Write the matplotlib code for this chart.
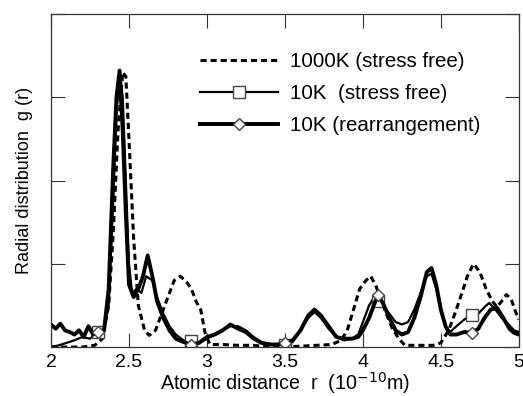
import numpy as np
import matplotlib.pyplot as plt

plt.rcParams['font.family'] = ['Liberation Sans', 'DejaVu Sans']

# 1000K (stress free) - dashed
r_hot = [2.00, 2.10, 2.20, 2.28, 2.33, 2.37, 2.40, 2.43, 2.46, 2.48, 2.50, 2.53, 2.56,
         2.60, 2.63, 2.67, 2.71, 2.75, 2.79, 2.83, 2.87, 2.90, 2.93, 2.96, 2.99, 3.02,
         3.10, 3.20, 3.30, 3.40, 3.50, 3.60, 3.70, 3.80, 3.86, 3.90, 3.94, 3.98, 4.02,
         4.05, 4.08, 4.11, 4.15, 4.19, 4.23, 4.27, 4.35, 4.45, 4.50, 4.55, 4.59, 4.63,
         4.67, 4.71, 4.75, 4.79, 4.83, 4.86, 4.89, 4.92, 4.95, 4.98, 5.00]
g_hot = [0.0, 0.0, 0.0, 0.02, 0.1, 0.5, 1.4, 2.6, 3.3, 3.25, 2.5, 1.3, 0.5,
         0.2, 0.14, 0.2, 0.4, 0.6, 0.8, 0.85, 0.78, 0.7, 0.55, 0.45, 0.15, 0.03,
         0.03, 0.02, 0.02, 0.0, 0.0, 0.01, 0.02, 0.03, 0.08, 0.2, 0.45, 0.7, 0.8,
         0.85, 0.75, 0.6, 0.4, 0.22, 0.1, 0.02, 0.02, 0.02, 0.05, 0.2, 0.4, 0.62,
         0.85, 1.0, 0.9, 0.7, 0.55, 0.48, 0.55, 0.63, 0.58, 0.42, 0.33]

# 10K (stress free) - thin line, squares
r_sf = [2.00, 2.05, 2.10, 2.15, 2.20, 2.25, 2.30, 2.34, 2.37, 2.40, 2.42, 2.44, 2.46,
        2.48, 2.50, 2.52, 2.55, 2.58, 2.61, 2.65, 2.68, 2.72, 2.76, 2.80, 2.85, 2.90,
        2.95, 3.00, 3.05, 3.10, 3.15, 3.20, 3.25, 3.30, 3.35, 3.40, 3.45, 3.50, 3.55,
        3.60, 3.65, 3.69, 3.73, 3.78, 3.83, 3.88, 3.93, 3.97, 4.00, 4.04, 4.08, 4.10,
        4.13, 4.17, 4.21, 4.25, 4.29, 4.33, 4.37, 4.41, 4.44, 4.47, 4.50, 4.53, 4.56,
        4.60, 4.65, 4.70, 4.74, 4.78, 4.81, 4.85, 4.89, 4.93, 4.97, 5.00]
g_sf = [0.0, 0.02, 0.05, 0.08, 0.12, 0.1, 0.18, 0.2, 0.5, 1.8, 2.8, 3.3, 3.0,
        2.0, 1.0, 0.65, 0.7, 0.65, 0.85, 0.8, 0.6, 0.4, 0.25, 0.15, 0.08, 0.07,
        0.05, 0.1, 0.15, 0.2, 0.25, 0.25, 0.2, 0.12, 0.06, 0.04, 0.03, 0.03, 0.06,
        0.2, 0.35, 0.42, 0.35, 0.22, 0.12, 0.08, 0.1, 0.15, 0.3, 0.5, 0.62, 0.55,
        0.5, 0.4, 0.3, 0.27, 0.3, 0.45, 0.65, 0.85, 0.88, 0.7, 0.45, 0.25, 0.18,
        0.25, 0.33, 0.39, 0.4, 0.48, 0.53, 0.45, 0.35, 0.28, 0.2, 0.18]

# 10K (rearrangement) - thick line, diamonds
r_re = [2.00, 2.03, 2.06, 2.09, 2.12, 2.15, 2.18, 2.21, 2.24, 2.27, 2.30, 2.34, 2.37,
        2.40, 2.42, 2.44, 2.46, 2.48, 2.50, 2.53, 2.56, 2.59, 2.62, 2.65, 2.68, 2.72,
        2.76, 2.80, 2.85, 2.90, 2.95, 3.00, 3.05, 3.10, 3.15, 3.20, 3.25, 3.30, 3.35,
        3.40, 3.45, 3.50, 3.55, 3.60, 3.65, 3.69, 3.73, 3.78, 3.83, 3.88, 3.93, 3.97,
        4.00, 4.04, 4.08, 4.10, 4.13, 4.17, 4.21, 4.25, 4.29, 4.33, 4.37, 4.41, 4.44,
        4.47, 4.50, 4.53, 4.56, 4.60, 4.65, 4.70, 4.74, 4.78, 4.82, 4.86, 4.90, 4.94,
        4.97, 5.00]
g_re = [0.27, 0.22, 0.28, 0.2, 0.18, 0.15, 0.2, 0.12, 0.25, 0.15, 0.18, 0.2, 0.7,
        2.2, 3.0, 3.32, 2.6, 1.6, 0.75, 0.6, 0.7, 0.85, 1.1, 0.85, 0.55, 0.35,
        0.2, 0.1, 0.06, 0.03, 0.05, 0.12, 0.15, 0.2, 0.27, 0.22, 0.18, 0.1, 0.05,
        0.03, 0.03, 0.05, 0.08, 0.2, 0.38, 0.45, 0.38, 0.25, 0.12, 0.1, 0.1, 0.12,
        0.2, 0.35, 0.55, 0.62, 0.52, 0.35, 0.2, 0.15, 0.18, 0.35, 0.6, 0.9, 0.95,
        0.75, 0.45, 0.25, 0.15, 0.15, 0.18, 0.17, 0.22, 0.35, 0.45, 0.47, 0.35, 0.22,
        0.17, 0.15]

marker_r = [2.3, 2.9, 3.5, 4.1, 4.7]

def mark_idx(r):
    r = np.round(np.array(r), 2)
    return [int(i) for i in np.where(np.isin(r, marker_r))[0]]

fig = plt.figure(figsize=(5.23, 3.96), dpi=100)
ax = fig.add_axes([0.0975, 0.1237, 0.8945, 0.8409])

ax.plot(r_hot, g_hot, color='black', lw=2.2, ls=(0, (2, 1.3)),
        label='1000K (stress free)')
ax.plot(r_sf, g_sf, color='black', lw=1.6, marker='s', ms=8, mfc='white',
        mec='#444444', mew=1.0, markevery=mark_idx(r_sf),
        label='10K  (stress free)')
ax.plot(r_re, g_re, color='black', lw=2.8, marker='D', ms=6.5, mfc='white',
        mec='#444444', mew=1.0, markevery=mark_idx(r_re),
        label='10K (rearrangement)')

ax.set_xlim(2, 5)
ax.set_ylim(0, 4)
ax.set_xticks([2, 2.5, 3, 3.5, 4, 4.5, 5])
ax.set_xticklabels(['2', '2.5', '3', '3.5', '4', '4.5', '5'])
ax.set_yticks([0, 1, 2, 3, 4])
ax.set_yticklabels([])
ax.tick_params(direction='in', length=10, width=0.8, top=True, right=True,
               labelsize=14, color='#333333', pad=5)
for s in ax.spines.values():
    s.set_linewidth(0.9)
    s.set_color('#333333')

ax.set_xlabel('Atomic distance  r  (10$^{-10}$m)', fontsize=14.2, labelpad=-0.5)
ax.set_ylabel('Radial distribution  g (r)', fontsize=13, labelpad=8)

ax.legend(loc='upper left', bbox_to_anchor=(0.318, 0.885), frameon=False,
          fontsize=14.8, handlelength=3.8, numpoints=1, labelspacing=0.62,
          handletextpad=0.6, borderpad=0, borderaxespad=0)

fig.savefig('out.png', dpi=100)
